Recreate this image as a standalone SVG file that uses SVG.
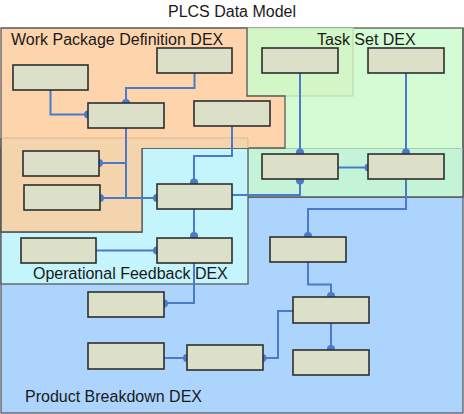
<svg xmlns="http://www.w3.org/2000/svg" width="464" height="414" viewBox="0 0 464 414">
<style>
.reg{stroke:#5a5a5a;stroke-width:1.3}
.node rect{fill:#dde0c9;stroke:#2e2e2e;stroke-width:1.6}
.lbl{font-family:"Liberation Sans",Arial,sans-serif;font-size:16px;fill:#1a1a1a}
#connectors path{fill:none;stroke:#4a7bcb;stroke-width:2}
#connectors circle{fill:#4a7bcb}
</style>
<rect width="464" height="414" fill="#ffffff"/>
<g id="product-breakdown">
<rect class="reg" x="1" y="148" width="462" height="265" fill="#acd4fc"/>
</g>
<g id="task-set">
<rect class="reg" x="247" y="28" width="216" height="169" fill="#d4fcd4"/>
<rect x="247" y="148" width="216" height="49" fill="#c4f4d8"/>
<line x1="247" y1="197" x2="463" y2="197" stroke="#5a5a5a" stroke-width="1.3"/>
<line x1="463" y1="28" x2="463" y2="197" stroke="#5a5a5a" stroke-width="1.3"/>
<line x1="247" y1="148.5" x2="463" y2="148.5" stroke="#a8c8b0" stroke-width="1"/>
<rect x="247" y="28" width="106" height="68" fill="#d2f6c6" stroke="#b8d8a8" stroke-width="1"/>
</g>
<g id="operational-feedback">
<rect class="reg" x="1" y="148" width="247" height="136" fill="#c4f4fc"/>
</g>
<g id="work-package">
<path class="reg" d="M1,28 H247 V96 H285 V148 H142 V232 H1 Z" fill="#fdd4ac"/>
<path d="M1.6,138 H248 V148 H142 V231.4 H1.6 Z" fill="#f4d4ac"/>
<path d="M1.6,138 H248 V148" fill="none" stroke="#d8b890" stroke-width="1"/>
<path d="M1,138 V232 H142 V148" fill="none" stroke="#5a5a5a" stroke-width="1.3"/>
</g>
<g id="connectors">
<path d="M50.5,90 V114.5 H88"/>
<path d="M194.5,73 V88 H126 V103"/>
<path d="M126,128 V198"/>
<path d="M99,163 H126"/>
<path d="M100,198 H157"/>
<path d="M232,126 V156 H194 V184"/>
<path d="M232,195 H300 V179"/>
<path d="M300,73 V154"/>
<path d="M406,73 V154"/>
<path d="M338,167.5 H368"/>
<path d="M406,179 V209 H308 V237"/>
<path d="M308,262 V284.5 H331 V297"/>
<path d="M331,323 V350"/>
<path d="M293,311 H278 V358 H263"/>
<path d="M164,358 H187"/>
<path d="M194,209 V238"/>
<path d="M194,263 V303 H164"/>
<path d="M96,250.5 H157"/>
<circle cx="88" cy="114.5" r="4"/>
<circle cx="126" cy="103" r="4"/>
<circle cx="99" cy="163" r="4"/>
<circle cx="100" cy="198" r="4"/>
<circle cx="157" cy="198" r="4"/>
<circle cx="194" cy="182.5" r="4"/>
<circle cx="300" cy="180.5" r="4"/>
<circle cx="300" cy="152.5" r="4"/>
<circle cx="406" cy="152.5" r="4"/>
<circle cx="368.5" cy="167.5" r="4"/>
<circle cx="308" cy="236" r="4"/>
<circle cx="331" cy="296" r="4"/>
<circle cx="331" cy="349" r="4"/>
<circle cx="262.5" cy="358" r="4"/>
<circle cx="187" cy="358" r="4"/>
<circle cx="194" cy="236" r="4"/>
<circle cx="164" cy="303.5" r="4"/>
<circle cx="157" cy="250.5" r="4"/>
</g>
<g id="n1" class="node"><rect x="13" y="65" width="75" height="25"/></g>
<g id="n2" class="node"><rect x="157" y="48" width="75" height="25"/></g>
<g id="n3" class="node"><rect x="88" y="103" width="76" height="25"/></g>
<g id="n4" class="node"><rect x="194" y="101" width="76" height="25"/></g>
<g id="n5" class="node"><rect x="262" y="48" width="76" height="25"/></g>
<g id="n6" class="node"><rect x="368" y="48" width="76" height="25"/></g>
<g id="n7" class="node"><rect x="23" y="151" width="76" height="25"/></g>
<g id="n8" class="node"><rect x="24" y="185" width="76" height="25"/></g>
<g id="n9" class="node"><rect x="157" y="184" width="75" height="25"/></g>
<g id="n10" class="node"><rect x="21" y="238" width="75" height="25"/></g>
<g id="n11" class="node"><rect x="157" y="238" width="75" height="25"/></g>
<g id="n12" class="node"><rect x="262" y="154" width="76" height="25"/></g>
<g id="n13" class="node"><rect x="368" y="154" width="76" height="25"/></g>
<g id="n14" class="node"><rect x="270" y="237" width="76" height="25"/></g>
<g id="n15" class="node"><rect x="88" y="292" width="76" height="25"/></g>
<g id="n16" class="node"><rect x="88" y="343" width="76" height="26"/></g>
<g id="n17" class="node"><rect x="187" y="345" width="76" height="25"/></g>
<g id="n18" class="node"><rect x="293" y="297" width="76" height="26"/></g>
<g id="n19" class="node"><rect x="293" y="350" width="76" height="25"/></g>
<g id="labels">
<text class="lbl" x="232" y="17" text-anchor="middle">PLCS Data Model</text>
<text class="lbl" x="11" y="45">Work Package Definition DEX</text>
<text class="lbl" x="317" y="45">Task Set DEX</text>
<text class="lbl" x="33" y="279">Operational Feedback DEX</text>
<text class="lbl" x="25" y="402">Product Breakdown DEX</text>
</g>
</svg>
